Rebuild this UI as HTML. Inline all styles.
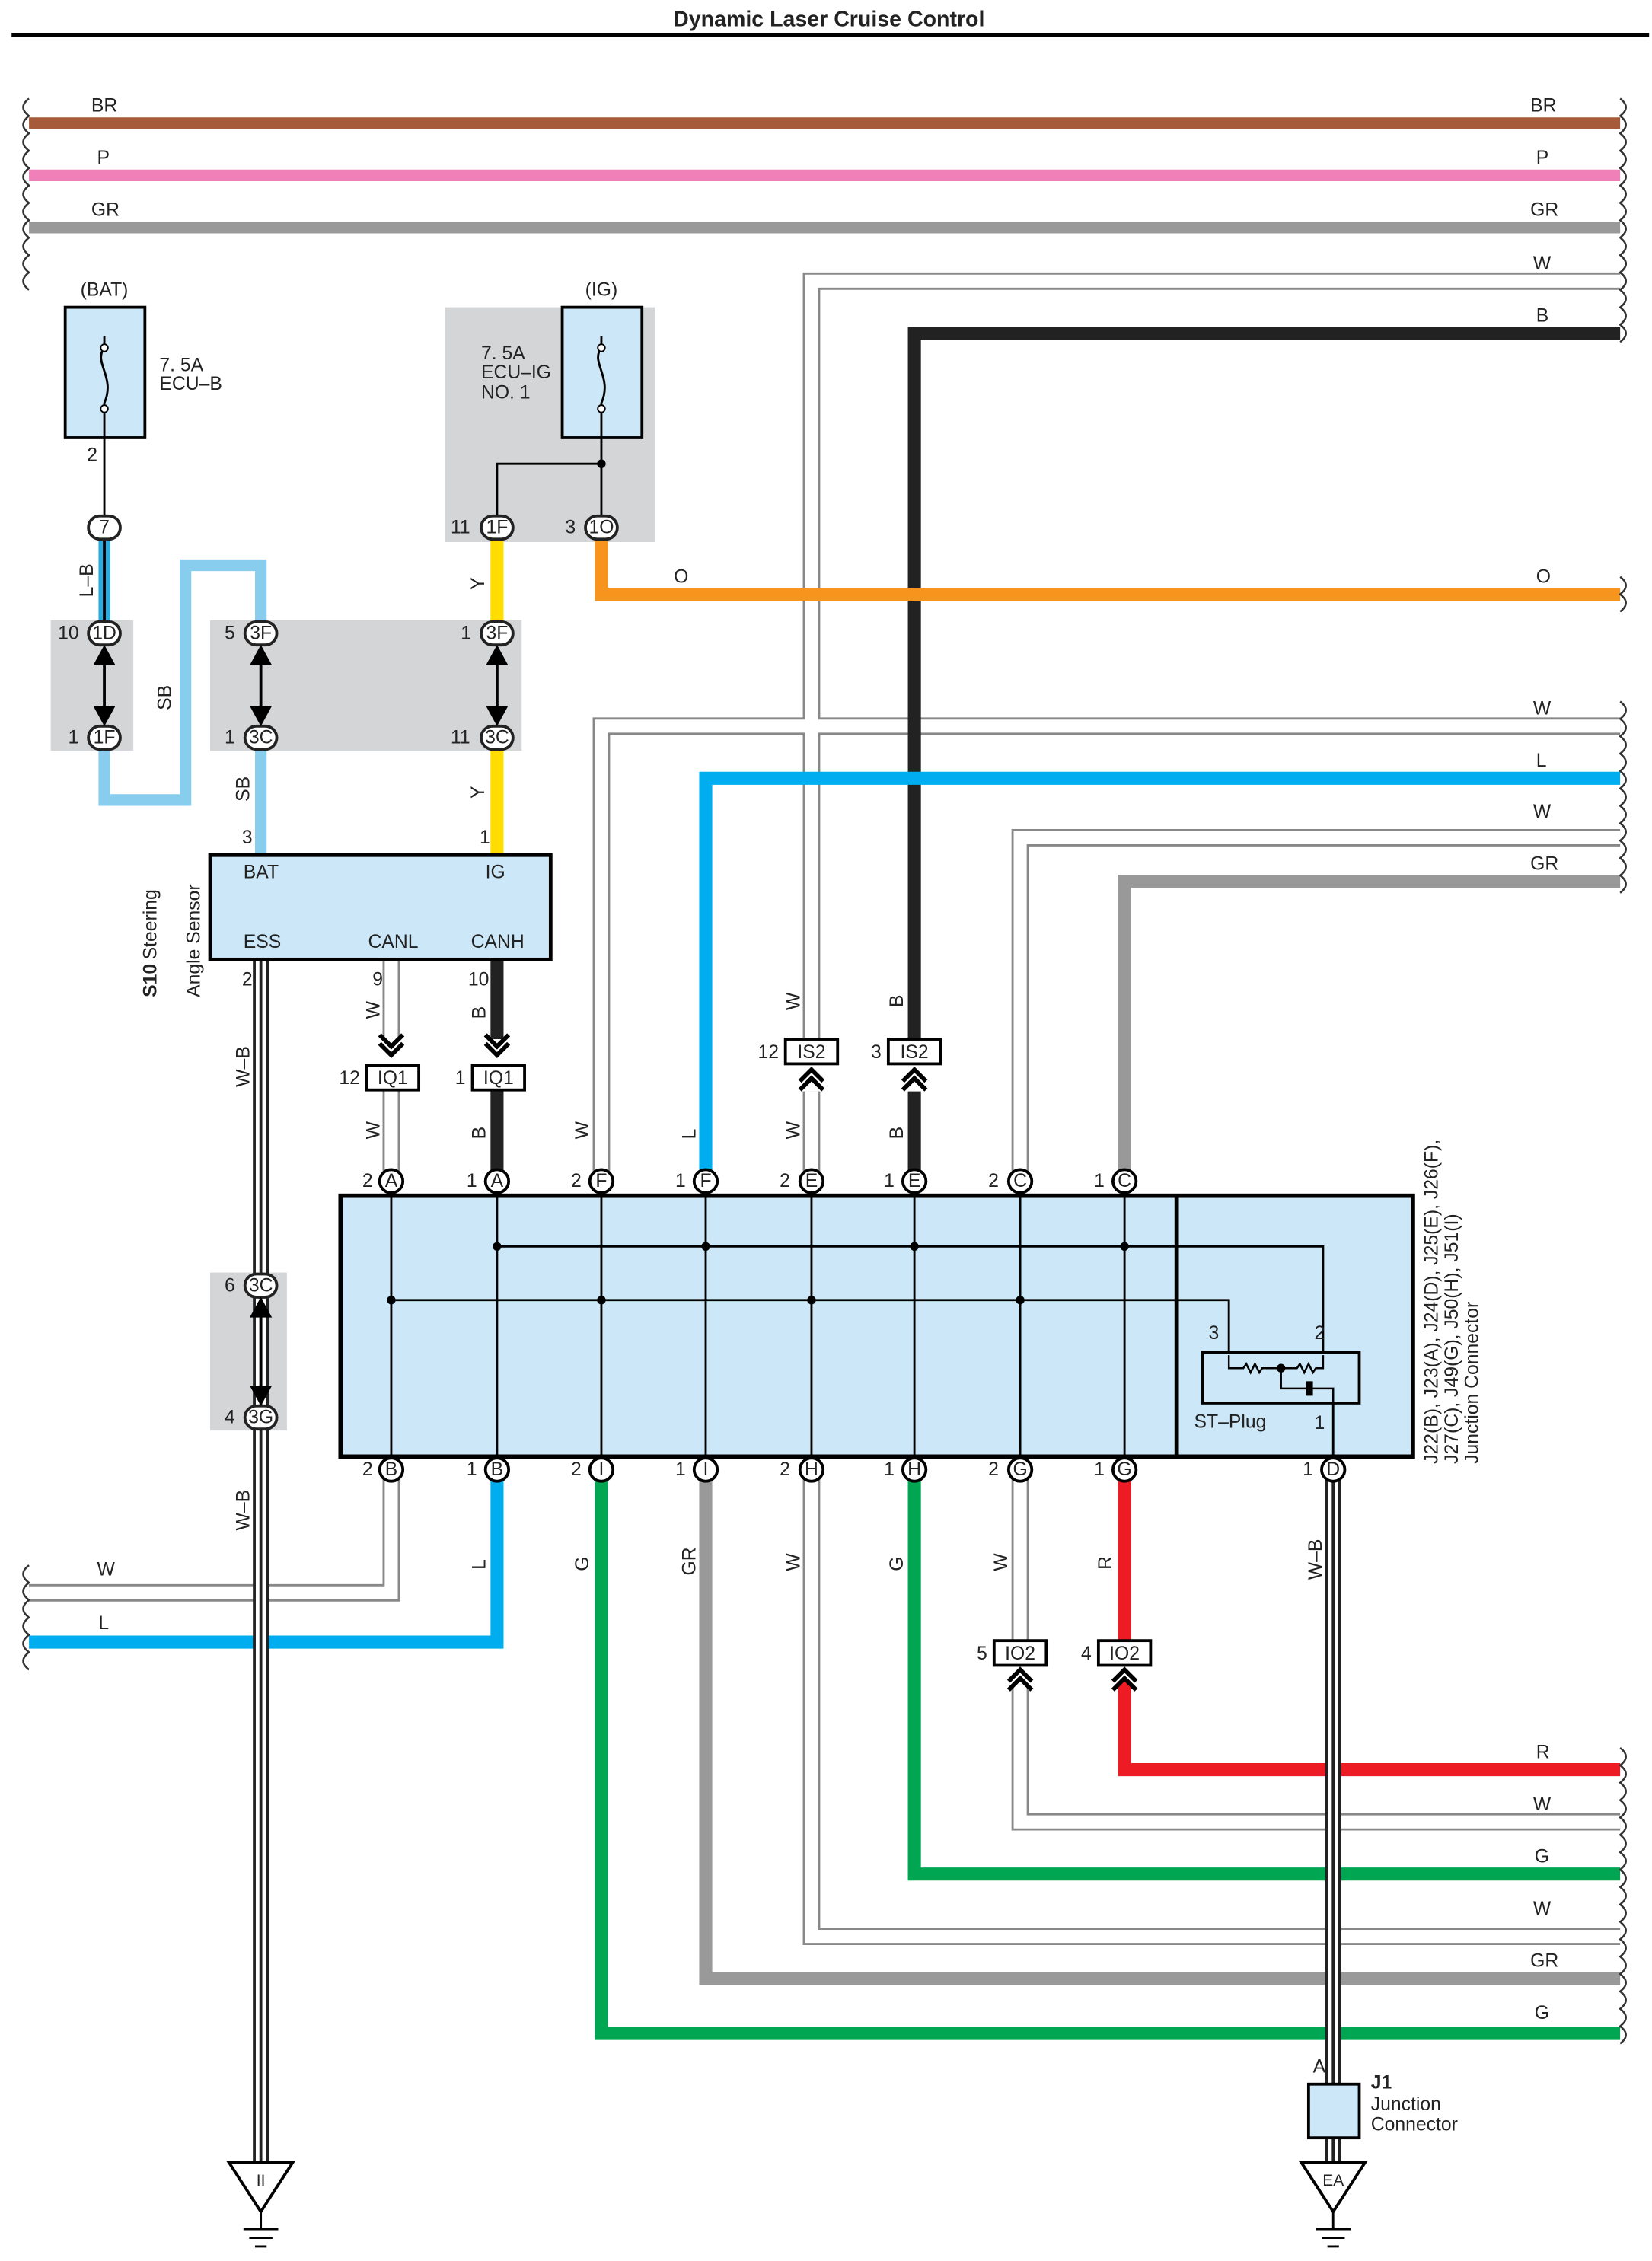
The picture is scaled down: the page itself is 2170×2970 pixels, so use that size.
<!DOCTYPE html>
<html><head><meta charset="utf-8"><style>
html,body{margin:0;padding:0;background:#fff}
svg{display:block}
text{font-family:"Liberation Sans",sans-serif;font-size:13px;fill:#222}
.c{text-anchor:middle}
</style></head><body>
<svg width="2170" height="2970" viewBox="0 0 1140 1560" preserveAspectRatio="none" xmlns="http://www.w3.org/2000/svg">
<text x="572" y="18" class="c" style="font-weight:bold;font-size:15px">Dynamic Laser Cruise Control</text>
<line x1="8" y1="24" x2="1138" y2="24" stroke="#000" stroke-width="2.5"/>

<!-- gray boxes -->
<rect x="307" y="212" width="145" height="162" fill="#d3d5d7"/>
<rect x="35" y="428" width="57" height="90" fill="#d3d5d7"/>
<rect x="145" y="428" width="215" height="90" fill="#d3d5d7"/>
<rect x="145" y="878" width="53" height="109" fill="#d3d5d7"/>

<g fill="none" stroke-linejoin="miter">
<!-- bus lines -->
<line x1="20" y1="85" x2="1118" y2="85" stroke="#a65a3a" stroke-width="8"/>
<line x1="20" y1="121" x2="1118" y2="121" stroke="#f080b8" stroke-width="8"/>
<line x1="20" y1="157" x2="1118" y2="157" stroke="#999" stroke-width="8"/>
<!-- white wires -->
<g stroke="#888" stroke-width="12">
<path d="M1118 194 H560 V717"/>
<path d="M1118 501 H415 V815"/>
<path d="M1118 578 H704 V815"/>
<path d="M270 662 V717 M270 752 V815"/>
<path d="M270 1014 V1099 H20"/>
<path d="M560 753 V815"/>
<path d="M560 1014 V1336 H1118"/>
<path d="M704 1014 V1132 M704 1162 V1257 H1118"/>
</g>
<g stroke="#fff" stroke-width="9">
<path d="M1118 194 H560 V717"/>
<path d="M1118 501 H415 V815"/>
<path d="M1118 578 H704 V815"/>
<path d="M270 662 V717 M270 752 V815"/>
<path d="M270 1014 V1099 H20"/>
<path d="M560 753 V815"/>
<path d="M560 1014 V1336 H1118"/>
<path d="M704 1014 V1132 M704 1162 V1257 H1118"/>
</g>
<!-- colored wires -->
<path d="M1118 230 H631 V717" stroke="#222" stroke-width="9"/>
<path d="M631 753 V815" stroke="#222" stroke-width="9"/>
<path d="M343 662 V717 M343 752 V815" stroke="#222" stroke-width="9"/>
<path d="M415 372 V410 H1118" stroke="#f7941d" stroke-width="9"/>
<path d="M343 372 V437 M343 509 V590" stroke="#ffdd00" stroke-width="9"/>
<path d="M72 509 V552 H128 V390 H180 V437 M180 509 V590" stroke="#88ccee" stroke-width="8"/>
<path d="M72 372 V437" stroke="#29abe2" stroke-width="8"/>
<path d="M72 372 V437" stroke="#000" stroke-width="2"/>
<path d="M487 815 V537 H1118" stroke="#00aeef" stroke-width="9"/>
<path d="M776 815 V608 H1118" stroke="#999" stroke-width="9"/>
<path d="M343 1014 V1133 H20" stroke="#00aeef" stroke-width="9"/>
<path d="M415 1014 V1403 H1118" stroke="#00a651" stroke-width="9"/>
<path d="M487 1014 V1365 H1118" stroke="#999" stroke-width="9"/>
<path d="M631 1014 V1293 H1118" stroke="#00a651" stroke-width="9"/>
<path d="M776 1014 V1132 M776 1160 V1221 H1118" stroke="#ed1c24" stroke-width="9"/>
<!-- W-B wires -->
<path d="M180 662 V1492 M920 1014 V1438 M920 1475 V1492" stroke="#222" stroke-width="11"/>
<path d="M180 662 V1492 M920 1014 V1438 M920 1475 V1492" stroke="#fff" stroke-width="7"/>
<path d="M180 662 V1492 M920 1014 V1438 M920 1475 V1492" stroke="#222" stroke-width="2"/>
</g>

<!-- wavy break marks -->
<g fill="none" stroke="#333" stroke-width="1.3">
<path d="M20 68 q-8 6 0 12 q-8 6 0 12 q-8 6 0 12 q-8 6 0 12 q-8 6 0 12 q-8 6 0 12 q-8 6 0 12 q-8 6 0 12 q-8 6 0 12 q-8 6 0 12 q-8 6 0 12"/>
<path d="M1118 68 q8 6 0 12 q8 6 0 12 q8 6 0 12 q8 6 0 12 q8 6 0 12 q8 6 0 12 q8 6 0 12 q8 6 0 12 q8 6 0 12 q8 6 0 12 q8 6 0 12"/>
<path d="M1118 176 q8 6 0 12 q8 6 0 12 q8 6 0 12 q8 6 0 12 q8 6 0 12"/>
<path d="M1118 398 q8 6 0 12 q8 6 0 12"/>
<path d="M1118 484 q8 6 0 12 q8 6 0 12 q8 6 0 12 q8 6 0 12 q8 6 0 12 q8 6 0 12 q8 6 0 12 q8 6 0 12 q8 6 0 12 q8 6 0 12 q8 6 0 12"/>
<path d="M1118 1206 q8 6 0 12 q8 6 0 12 q8 6 0 12 q8 6 0 12 q8 6 0 12 q8 6 0 12 q8 6 0 12 q8 6 0 12 q8 6 0 12 q8 6 0 12 q8 6 0 12 q8 6 0 12 q8 6 0 12 q8 6 0 12 q8 6 0 12 q8 6 0 12 q8 6 0 12"/>
<path d="M20 1080 q-8 6 0 12 q-8 6 0 12 q-8 6 0 12 q-8 6 0 12 q-8 6 0 12 q-8 6 0 12"/>
</g>

<!-- fuses -->
<rect x="45" y="212" width="55" height="90" fill="#cce8f8" stroke="#000" stroke-width="2"/>
<rect x="388" y="212" width="55" height="90" fill="#cce8f8" stroke="#000" stroke-width="2"/>
<g fill="none" stroke="#000" stroke-width="1.5">
<path d="M72 240 V232 M72 240 c-8 10 8 20 0 38 V302"/>
<path d="M415 240 V232 M415 240 c-8 10 8 20 0 38 V364 M415 320 H343 V364"/>
<path d="M72 302 V364"/>
</g>
<circle cx="72" cy="240" r="2.5" fill="#fff" stroke="#000"/><circle cx="72" cy="282" r="2.5" fill="#fff" stroke="#000"/>
<circle cx="415" cy="240" r="2.5" fill="#fff" stroke="#000"/><circle cx="415" cy="282" r="2.5" fill="#fff" stroke="#000"/>
<circle cx="415" cy="320" r="3" fill="#000"/>
<text x="72" y="204" class="c">(BAT)</text><text x="415" y="204" class="c">(IG)</text>
<text x="110" y="256">7. 5A</text><text x="110" y="269">ECU–B</text>
<text x="332" y="248">7. 5A</text><text x="332" y="261">ECU–IG</text><text x="332" y="275">NO. 1</text>
<text x="60" y="318">2</text>

<!-- oval connectors -->
<g stroke="#222" stroke-width="2" fill="#fff">
<rect x="61" y="356" width="22" height="16" rx="8"/>
<rect x="61" y="429" width="22" height="16" rx="8"/><rect x="61" y="501" width="22" height="16" rx="8"/>
<rect x="169" y="429" width="22" height="16" rx="8"/><rect x="169" y="501" width="22" height="16" rx="8"/>
<rect x="332" y="429" width="22" height="16" rx="8"/><rect x="332" y="501" width="22" height="16" rx="8"/>
<rect x="332" y="356" width="22" height="16" rx="8"/><rect x="404" y="356" width="22" height="16" rx="8"/>
<rect x="169" y="879" width="22" height="16" rx="8"/><rect x="169" y="970" width="22" height="16" rx="8"/>
</g>
<g style="font-size:11px">
<text x="72" y="368" class="c">7</text>
<text x="72" y="441" class="c">1D</text><text x="72" y="513" class="c">1F</text>
<text x="180" y="441" class="c">3F</text><text x="180" y="513" class="c">3C</text>
<text x="343" y="441" class="c">3F</text><text x="343" y="513" class="c">3C</text>
<text x="343" y="368" class="c">1F</text><text x="415" y="368" class="c">1O</text>
<text x="180" y="891" class="c">3C</text><text x="180" y="982" class="c">3G</text>
</g>
<text x="40" y="441">10</text><text x="47" y="513">1</text>
<text x="155" y="441">5</text><text x="155" y="513">1</text>
<text x="318" y="441">1</text><text x="311" y="513">11</text>
<text x="311" y="368">11</text><text x="390" y="368">3</text>
<text x="155" y="891">6</text><text x="155" y="982">4</text>
<!-- double arrows in gray boxes -->
<g stroke="#000" stroke-width="2" fill="#000">
<line x1="72" y1="447" x2="72" y2="499"/><line x1="180" y1="447" x2="180" y2="499"/><line x1="343" y1="447" x2="343" y2="499"/><line x1="180" y1="897" x2="180" y2="968"/>
<path d="M66 458 L72 447 L78 458 Z M66 488 L72 499 L78 488 Z"/>
<path d="M174 458 L180 447 L186 458 Z M174 488 L180 499 L186 488 Z"/>
<path d="M337 458 L343 447 L349 458 Z M337 488 L343 499 L349 488 Z"/>
<path d="M174 908 L180 897 L186 908 Z M174 957 L180 968 L186 957 Z"/>
</g>

<!-- steering angle sensor -->
<rect x="145" y="590" width="235" height="72" fill="#cce8f8" stroke="#000" stroke-width="2.5"/>
<text x="168" y="606">BAT</text><text x="335" y="606">IG</text>
<text x="168" y="654">ESS</text><text x="254" y="654">CANL</text><text x="325" y="654">CANH</text>
<text x="167" y="582">3</text><text x="331" y="582">1</text>
<text x="167" y="680">2</text><text x="257" y="680">9</text><text x="323" y="680">10</text>
<g transform="translate(108,688) rotate(-90)"><text x="0" y="0" style="font-weight:bold">S10</text><text x="26" y="0">Steering</text></g>
<text transform="translate(138,688) rotate(-90)">Angle Sensor</text>

<!-- IQ1 / IS2 / IO2 connectors with chevrons -->
<g fill="none" stroke="#000" stroke-width="3">
<path d="M262 714 l8 8 l8 -8 M262 720 l8 8 l8 -8"/>
<path d="M335 714 l8 8 l8 -8 M335 720 l8 8 l8 -8"/>
<path d="M552 746 l8 -8 l8 8 M552 752 l8 -8 l8 8"/>
<path d="M623 746 l8 -8 l8 8 M623 752 l8 -8 l8 8"/>
<path d="M696 1160 l8 -8 l8 8 M696 1166 l8 -8 l8 8"/>
<path d="M768 1160 l8 -8 l8 8 M768 1166 l8 -8 l8 8"/>
</g>
<g fill="#fff" stroke="#000" stroke-width="2">
<rect x="253" y="735" width="36" height="17"/><rect x="326" y="735" width="36" height="17"/>
<rect x="542" y="717" width="36" height="17"/><rect x="613" y="717" width="36" height="17"/>
<rect x="686" y="1132" width="36" height="17"/><rect x="758" y="1132" width="36" height="17"/>
</g>
<g style="font-size:12px">
<text x="271" y="748" class="c">IQ1</text><text x="344" y="748" class="c">IQ1</text>
<text x="560" y="730" class="c">IS2</text><text x="631" y="730" class="c">IS2</text>
<text x="704" y="1145" class="c">IO2</text><text x="776" y="1145" class="c">IO2</text>
</g>
<text x="234" y="748">12</text><text x="314" y="748">1</text>
<text x="523" y="730">12</text><text x="601" y="730">3</text>
<text x="674" y="1145">5</text><text x="746" y="1145">4</text>

<!-- junction block -->
<rect x="235" y="825" width="740" height="180" fill="#cce8f8" stroke="#000" stroke-width="3"/>
<line x1="812" y1="825" x2="812" y2="1005" stroke="#000" stroke-width="3"/>
<g stroke="#000" stroke-width="1.5" fill="none">
<path d="M270 825 V1005 M343 825 V1005 M415 825 V1005 M487 825 V1005 M560 825 V1005 M631 825 V1005 M704 825 V1005 M776 825 V1005"/>
<path d="M343 860 H913 V935 M270 897 H848 V935"/>
<path d="M920 1005 V968"/>
</g>
<g fill="#000">
<circle cx="343" cy="860" r="3"/><circle cx="487" cy="860" r="3"/><circle cx="631" cy="860" r="3"/><circle cx="776" cy="860" r="3"/>
<circle cx="270" cy="897" r="3"/><circle cx="415" cy="897" r="3"/><circle cx="560" cy="897" r="3"/><circle cx="704" cy="897" r="3"/>
</g>
<rect x="830" y="933" width="108" height="35" fill="#cce8f8" stroke="#000" stroke-width="2"/>
<g stroke="#000" stroke-width="1.3" fill="none">
<path d="M848 935 V944 H858 l2 -3 l3 6 l3 -6 l3 6 l2 -3 H895 l2 -3 l3 6 l3 -6 l3 6 l2 -3 H913 V935"/>
<path d="M884 944 V958 H903 M903 954 V962 M920 968 V958 H906"/>
</g>
<circle cx="884" cy="944" r="3" fill="#000"/>
<rect x="901" y="953" width="5" height="10" fill="#000"/>
<text x="834" y="924">3</text><text x="907" y="924">2</text><text x="907" y="986">1</text>
<text x="824" y="985">ST–Plug</text>

<!-- pin circles -->
<g fill="#fff" stroke="#000" stroke-width="2">
<circle cx="270" cy="815" r="8"/><circle cx="343" cy="815" r="8"/><circle cx="415" cy="815" r="8"/><circle cx="487" cy="815" r="8"/>
<circle cx="560" cy="815" r="8"/><circle cx="631" cy="815" r="8"/><circle cx="704" cy="815" r="8"/><circle cx="776" cy="815" r="8"/>
<circle cx="270" cy="1014" r="8"/><circle cx="343" cy="1014" r="8"/><circle cx="415" cy="1014" r="8"/><circle cx="487" cy="1014" r="8"/>
<circle cx="560" cy="1014" r="8"/><circle cx="631" cy="1014" r="8"/><circle cx="704" cy="1014" r="8"/><circle cx="776" cy="1014" r="8"/><circle cx="920" cy="1014" r="8"/>
</g>
<g style="font-size:11px" class="c">
<text x="270" y="819" class="c">A</text><text x="343" y="819" class="c">A</text><text x="415" y="819" class="c">F</text><text x="487" y="819" class="c">F</text>
<text x="560" y="819" class="c">E</text><text x="631" y="819" class="c">E</text><text x="704" y="819" class="c">C</text><text x="776" y="819" class="c">C</text>
<text x="270" y="1018" class="c">B</text><text x="343" y="1018" class="c">B</text><text x="415" y="1018" class="c">I</text><text x="487" y="1018" class="c">I</text>
<text x="560" y="1018" class="c">H</text><text x="631" y="1018" class="c">H</text><text x="704" y="1018" class="c">G</text><text x="776" y="1018" class="c">G</text><text x="920" y="1018" class="c">D</text>
</g>
<g>
<text x="250" y="819">2</text><text x="322" y="819">1</text><text x="394" y="819">2</text><text x="466" y="819">1</text>
<text x="538" y="819">2</text><text x="610" y="819">1</text><text x="682" y="819">2</text><text x="755" y="819">1</text>
<text x="250" y="1018">2</text><text x="322" y="1018">1</text><text x="394" y="1018">2</text><text x="466" y="1018">1</text>
<text x="538" y="1018">2</text><text x="610" y="1018">1</text><text x="682" y="1018">2</text><text x="755" y="1018">1</text><text x="899" y="1018">1</text>
</g>
<text transform="translate(992,1010) rotate(-90)">J22(B), J23(A), J24(D), J25(E), J26(F),</text>
<text transform="translate(1006,1010) rotate(-90)">J27(C), J49(G), J50(H), J51(I)</text>
<text transform="translate(1020,1010) rotate(-90)">Junction Connector</text>

<!-- J1 -->
<rect x="903" y="1438" width="35" height="37" fill="#cce8f8" stroke="#000" stroke-width="2"/>
<text x="906" y="1430">A</text>
<text x="946" y="1441" style="font-weight:bold">J1</text>
<text x="946" y="1456">Junction</text><text x="946" y="1470">Connector</text>

<!-- grounds -->
<g fill="#fff" stroke="#000" stroke-width="2">
<path d="M158 1492 H202 L180 1526 Z"/><path d="M898 1492 H942 L920 1526 Z"/>
</g>
<g stroke="#000" stroke-width="1.5">
<path d="M180 1526 V1538 M168 1538 H192 M172 1544 H188 M176 1550 H184"/>
<path d="M920 1526 V1538 M908 1538 H932 M912 1544 H928 M916 1550 H924"/>
</g>
<text x="180" y="1508" class="c" style="font-size:11px">II</text>
<text x="920" y="1508" class="c" style="font-size:11px">EA</text>

<!-- wire labels -->
<text x="63" y="77">BR</text><text x="1056" y="77">BR</text>
<text x="67" y="113">P</text><text x="1060" y="113">P</text>
<text x="63" y="149">GR</text><text x="1056" y="149">GR</text>
<text x="1058" y="186">W</text><text x="1060" y="222">B</text>
<text x="465" y="402">O</text><text x="1060" y="402">O</text>
<text x="1058" y="493">W</text><text x="1060" y="529">L</text>
<text x="1058" y="564">W</text><text x="1056" y="600">GR</text>
<text x="67" y="1087">W</text><text x="68" y="1124">L</text>
<text x="1060" y="1213">R</text><text x="1058" y="1249">W</text><text x="1059" y="1285">G</text>
<text x="1058" y="1321">W</text><text x="1056" y="1357">GR</text><text x="1059" y="1393">G</text>
<g>
<text transform="translate(64,412) rotate(-90)">L–B</text>
<text transform="translate(118,490) rotate(-90)">SB</text>
<text transform="translate(172,553) rotate(-90)">SB</text>
<text transform="translate(334,407) rotate(-90)">Y</text>
<text transform="translate(334,551) rotate(-90)">Y</text>
<text transform="translate(262,703) rotate(-90)">W</text>
<text transform="translate(335,703) rotate(-90)">B</text>
<text transform="translate(262,786) rotate(-90)">W</text>
<text transform="translate(335,786) rotate(-90)">B</text>
<text transform="translate(406,786) rotate(-90)">W</text>
<text transform="translate(480,786) rotate(-90)">L</text>
<text transform="translate(552,786) rotate(-90)">W</text>
<text transform="translate(623,786) rotate(-90)">B</text>
<text transform="translate(552,697) rotate(-90)">W</text>
<text transform="translate(623,695) rotate(-90)">B</text>
<text transform="translate(172,750) rotate(-90)">W–B</text>
<text transform="translate(172,1056) rotate(-90)">W–B</text>
<text transform="translate(335,1083) rotate(-90)">L</text>
<text transform="translate(406,1084) rotate(-90)">G</text>
<text transform="translate(480,1087) rotate(-90)">GR</text>
<text transform="translate(552,1084) rotate(-90)">W</text>
<text transform="translate(623,1084) rotate(-90)">G</text>
<text transform="translate(695,1084) rotate(-90)">W</text>
<text transform="translate(767,1083) rotate(-90)">R</text>
<text transform="translate(912,1090) rotate(-90)">W–B</text>
</g>
</svg>
</body></html>
